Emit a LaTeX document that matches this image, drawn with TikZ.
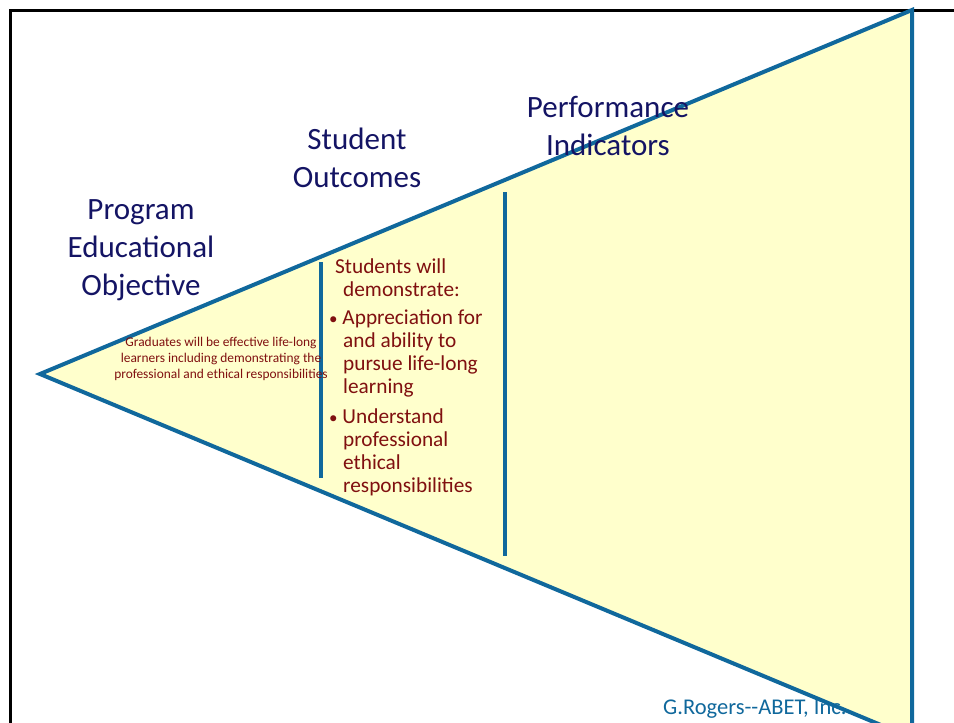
\documentclass[tikz,border=0pt]{standalone}
\usepackage{fontspec}
\setmainfont{Carlito}
\definecolor{tblue}{RGB}{16,104,156}
\definecolor{tfill}{RGB}{255,255,204}
\definecolor{navy}{RGB}{20,20,100}
\definecolor{dred}{RGB}{128,16,16}
\begin{document}
\begin{tikzpicture}[x=1pt,y=-1pt,
  head/.style={text=navy,font=\fontsize{31}{38}\selectfont,align=center,inner sep=0pt},
  red/.style={text=dred,font=\fontsize{21.3}{23}\selectfont,align=left,inner sep=0pt,anchor=north west},
  small/.style={text=dred,font=\fontsize{13.4}{16}\selectfont,align=center,inner sep=0pt}]
\useasboundingbox (0,0) rectangle (954,723);
\begin{scope}
\clip (0,0) rectangle (954,723);
\draw[line width=3pt,black] (10,730) -- (10,10) -- (960,10);
\coordinate (apex) at (40,374);
\coordinate (tr) at (912,10);
\coordinate (br) at (912,738);
\draw[line width=4pt,tblue,fill=tfill,line join=miter] (apex) -- (tr) -- (br) -- cycle;
\end{scope}
\coordinate (v1a) at (321,262); \coordinate (v1b) at (321,478);
\coordinate (v2a) at (505,192); \coordinate (v2b) at (505,556);
\draw[line width=4pt,tblue] (v1a) -- (v1b);
\draw[line width=4pt,tblue] (v2a) -- (v2b);
\node[head] (peo) at (141,250) {Program\\Educational\\Objective};
\node[head] (so) at (357,158) {Student\\Outcomes};
\node[head] (pi) at (608,126) {Performance\\Indicators};
\node[small] (grad) at (221,359) {Graduates will be effective life-long\\learners including demonstrating the\\professional and ethical responsibilities};
\node[red] (sw) at (335,259) {Students will\\\hspace*{8pt}demonstrate:};
\node[red] (b1) at (329,310) {{\fontsize{17}{23}\selectfont\textbullet}\ Appreciation for\\\hspace*{14pt}and ability to\\\hspace*{14pt}pursue life-long\\\hspace*{14pt}learning};
\node[red] (b2) at (329,409) {{\fontsize{17}{23}\selectfont\textbullet}\ Understand\\\hspace*{14pt}professional\\\hspace*{14pt}ethical\\\hspace*{14pt}responsibilities};
\node[text=tblue,font=\fontsize{22.5}{23}\selectfont,inner sep=0pt,anchor=west] (cr) at (663,709) {G.Rogers-{}-ABET, Inc.};
\end{tikzpicture}
\end{document}
